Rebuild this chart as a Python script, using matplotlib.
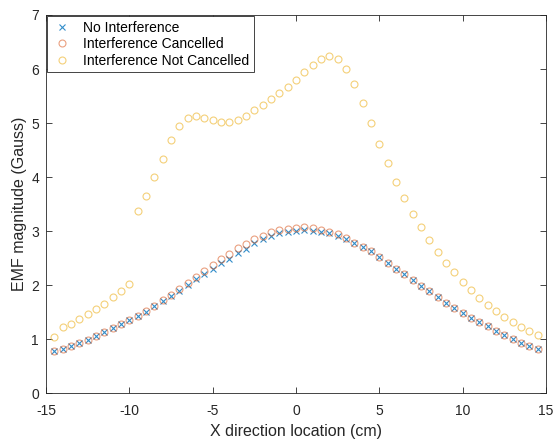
import numpy as np
import matplotlib.pyplot as plt

plt.rcParams['font.family'] = ['Liberation Sans', 'DejaVu Sans']
plt.rcParams['axes.unicode_minus'] = False

x = np.arange(-14.5, 14.51, 0.5)

cancelled = [0.78, 0.83, 0.885, 0.935, 0.996, 1.065, 1.14, 1.21, 1.29, 1.36,
             1.44, 1.52, 1.62, 1.72, 1.82, 1.93, 2.04, 2.16, 2.27, 2.38,
             2.49, 2.58, 2.69, 2.77, 2.86, 2.92, 2.98, 3.02, 3.05, 3.06,
             3.07, 3.06, 3.03, 2.99, 2.94, 2.87, 2.79, 2.71, 2.63, 2.52,
             2.42, 2.31, 2.20, 2.10, 1.99, 1.89, 1.79, 1.68, 1.58, 1.49,
             1.40, 1.32, 1.24, 1.16, 1.08, 1.01, 0.935, 0.88, 0.82]

# gap between cancelled and no-interference readings
delta = [0.0, 0.0, 0.0, 0.0, 0.0, 0.0, 0.0, 0.0, 0.0, 0.0,
         0.0, 0.01, 0.01, 0.01, 0.02, 0.03, 0.04, 0.05, 0.06, 0.07,
         0.08, 0.09, 0.09, 0.09, 0.08, 0.07, 0.07, 0.06, 0.06, 0.06,
         0.05, 0.05, 0.04, 0.03, 0.02, 0.01, 0.0, 0.0, 0.0, 0.0,
         0.0, 0.0, 0.0, 0.0, 0.0, 0.0, 0.0, 0.0, 0.0, 0.0,
         0.0, 0.0, 0.0, 0.0, 0.0, 0.0, 0.0, 0.0, 0.0]
no_interf = [c - d for c, d in zip(cancelled, delta)]

not_cancelled = [1.05, 1.22, 1.29, 1.37, 1.46, 1.56, 1.66, 1.79, 1.90, 2.02,
                 3.38, 3.66, 4.00, 4.34, 4.69, 4.94, 5.09, 5.13, 5.10, 5.06,
                 5.02, 5.02, 5.06, 5.13, 5.24, 5.34, 5.45, 5.56, 5.67, 5.79,
                 5.94, 6.08, 6.19, 6.24, 6.19, 6.01, 5.73, 5.38, 5.00, 4.61,
                 4.26, 3.91, 3.61, 3.32, 3.07, 2.84, 2.62, 2.42, 2.24, 2.06,
                 1.92, 1.77, 1.63, 1.52, 1.42, 1.32, 1.23, 1.15, 1.08]

fig = plt.figure(figsize=(5.6, 4.41), dpi=100)
ax = fig.add_axes([0.082, 0.108, 0.893, 0.858])

ax.plot(x, no_interf, 'x', color='#0072BD', ms=4.5, mew=0.8, alpha=0.8,
        label='No Interference')
ax.plot(x, cancelled, 'o', mfc='none', color='#D95319', ms=5, mew=0.8,
        alpha=0.55, label='Interference Cancelled')
ax.plot(x, not_cancelled, 'o', mfc='none', color='#EDB120', ms=5, mew=0.8,
        alpha=0.6, label='Interference Not Cancelled')

ax.set_xlim(-15, 15)
ax.set_ylim(0, 7)
ax.set_xticks(range(-15, 16, 5))
ax.set_yticks(range(0, 8))
ax.tick_params(direction='in', top=True, right=True, labelsize=10,
               colors='#262626', length=4, width=0.6)
ax.tick_params(axis='x', pad=8)
ax.tick_params(axis='y', pad=5)
for s in ax.spines.values():
    s.set_color('#262626')
    s.set_linewidth(0.6)

ax.set_xlabel('X direction location (cm)', fontsize=11.5, color='#262626',
              labelpad=4)
ax.set_ylabel('EMF magnitude (Gauss)', fontsize=11.5, color='#262626',
              labelpad=3)

leg = ax.legend(loc='upper left', borderaxespad=0.1, fancybox=False,
                edgecolor='#262626', framealpha=1, fontsize=10,
                handletextpad=0.8, borderpad=0.3, labelspacing=0.2,
                handlelength=1.5)
leg.get_frame().set_linewidth(0.6)

fig.savefig('out.png', dpi=100)
